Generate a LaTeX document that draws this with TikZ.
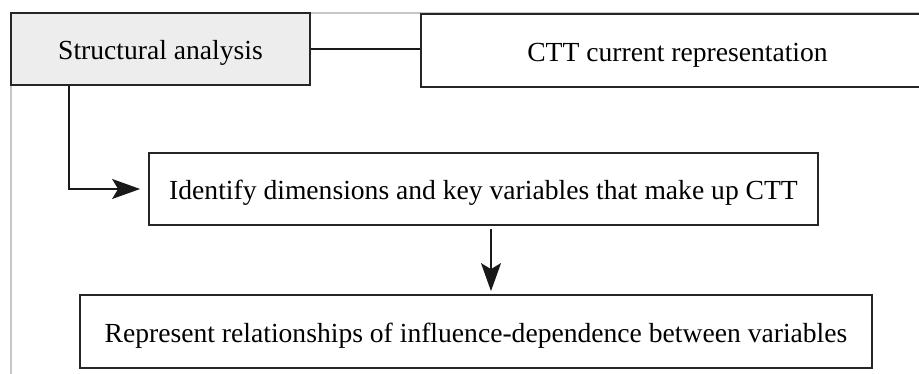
\documentclass[tikz,border=0pt]{standalone}
\usepackage{fontspec}
\setmainfont{Liberation Serif}
\usetikzlibrary{arrows.meta}
\begin{document}
\begin{tikzpicture}[x=1pt,y=-1pt,
  box/.style={draw=black!85, line width=1.8pt, inner sep=0pt,
    text height=22pt, text depth=0pt,
    font=\fontsize{27.6}{33}\selectfont},
  link/.style={draw=black!90, line width=1.6pt},
  tip/.style={-{Stealth[length=28pt,width=20pt,inset=6pt]}},
  pageframe/.style={draw=black!22, line width=1.5pt}]
\useasboundingbox (0,0) rectangle (919,374);
% page frame behind the boxes
\draw[pageframe] (11,374) -- (11,13) -- (919,13);
% boxes
\node[box, fill=black!7, minimum width=299pt, minimum height=72pt] (sa) at (160.5,49) {Structural analysis};
\node[box, fill=white, minimum width=513pt, minimum height=73pt] (ctt) at (677.5,50.5) {CTT current representation};
\node[box, minimum width=669pt, minimum height=72pt] (id) at (483.5,189) {Identify dimensions and key variables that make up CTT};
\node[box, minimum width=792pt, minimum height=73pt] (rep) at (476,331.5) {Represent relationships of influence-dependence between variables};
% connectors
\coordinate (bend) at (69,191);
\coordinate (down) at (491,0);
\coordinate (idin) at ([xshift=-8pt]id.west);
\draw[link] (sa.east) -- (sa.east -| ctt.west);
\draw[link,line width=1.4pt,tip] (sa.south -| bend) |- (idin);
\draw[link,line width=1.4pt,tip,shorten <=3pt,shorten >=3pt] (id.south -| down) -- (rep.north -| down);
\end{tikzpicture}
\end{document}
